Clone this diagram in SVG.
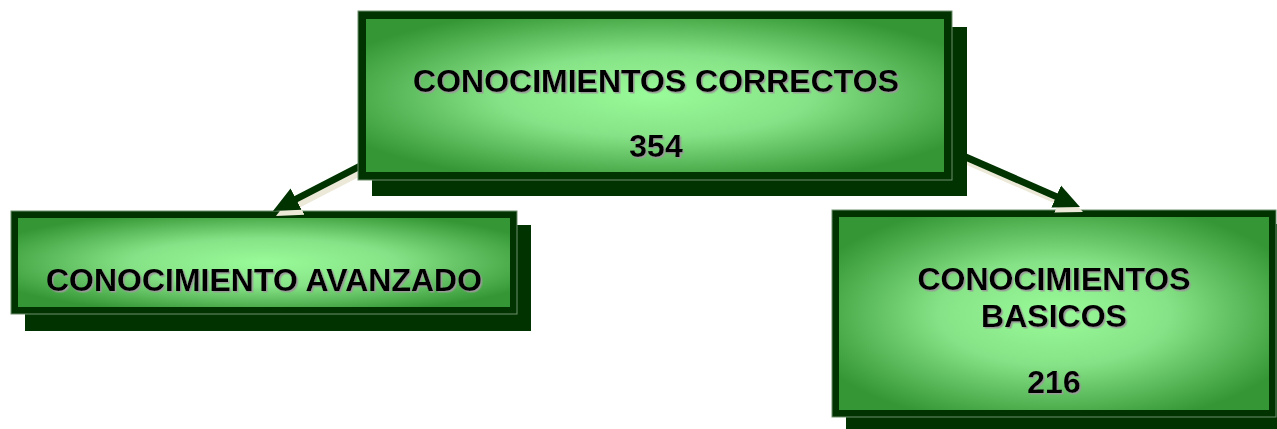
<svg xmlns="http://www.w3.org/2000/svg" width="1277" height="429" viewBox="0 0 1277 429">
<style>
.shadow{fill:#003300}
.frame{fill:#003300;stroke:#6f8f6f;stroke-width:1}
.face{fill:url(#g)}
.lbl{font-family:"Liberation Sans",Arial,sans-serif;font-weight:bold;font-size:32px;fill:#000;text-anchor:middle;filter:url(#ts)}
.conn{stroke:#003300;stroke-width:7;fill:none;marker-end:url(#ah)}
.connsh{stroke:#ece9d8;stroke-width:7;fill:none;marker-end:url(#ahs)}
</style>
<defs>
<radialGradient id="g" cx="0.5" cy="0.5" r="0.6">
<stop offset="0" stop-color="#99fb99"/>
<stop offset="0.45" stop-color="#86e286"/>
<stop offset="1" stop-color="#349634"/>
</radialGradient>
<filter id="ts" x="-5%" y="-20%" width="110%" height="140%">
<feDropShadow dx="1.5" dy="1.5" stdDeviation="0.3" flood-color="#9a9a9a"/>
</filter>
<marker id="ah" markerUnits="userSpaceOnUse" viewBox="0 -13 28 26" markerWidth="28" markerHeight="26" refX="2" refY="0" orient="auto">
<path d="M0,-12 L26,0 L0,12 z" fill="#003300"/>
</marker>
<marker id="ahs" markerUnits="userSpaceOnUse" viewBox="0 -13 28 26" markerWidth="28" markerHeight="26" refX="2" refY="0" orient="auto">
<path d="M0,-12 L26,0 L0,12 z" fill="#ece9d8"/>
</marker>
</defs>
<g id="node-avanzado">
<rect class="shadow" x="25" y="225" width="506" height="106"/>
<rect class="frame" x="11" y="211" width="506" height="103"/>
<rect class="face" x="18" y="218" width="492" height="89"/>
<text class="lbl" x="264" y="291">CONOCIMIENTO AVANZADO</text>
</g>
<g id="node-basicos">
<rect class="shadow" x="846" y="224" width="444" height="210"/>
<rect class="frame" x="832" y="210" width="444" height="207"/>
<rect class="face" x="839" y="217" width="430" height="193"/>
<text class="lbl" x="1054" y="290">CONOCIMIENTOS</text>
<text class="lbl" x="1054" y="327">BASICOS</text>
<text class="lbl" x="1054" y="393">216</text>
</g>
<g id="connectors">
<line class="connsh" x1="369" y1="168" x2="297.3" y2="205"/>
<line class="connsh" x1="948" y1="153" x2="1061" y2="202.4"/>
<line class="conn" x1="366" y1="163" x2="294.3" y2="200"/>
<line class="conn" x1="945" y1="148" x2="1058" y2="197.4"/>
</g>
<g id="node-correctos">
<rect class="shadow" x="372" y="27" width="595" height="169"/>
<rect class="frame" x="358" y="11" width="594" height="169"/>
<rect class="face" x="366" y="19" width="578" height="153"/>
<text class="lbl" x="656" y="92">CONOCIMIENTOS CORRECTOS</text>
<text class="lbl" x="656" y="157">354</text>
</g>
</svg>
